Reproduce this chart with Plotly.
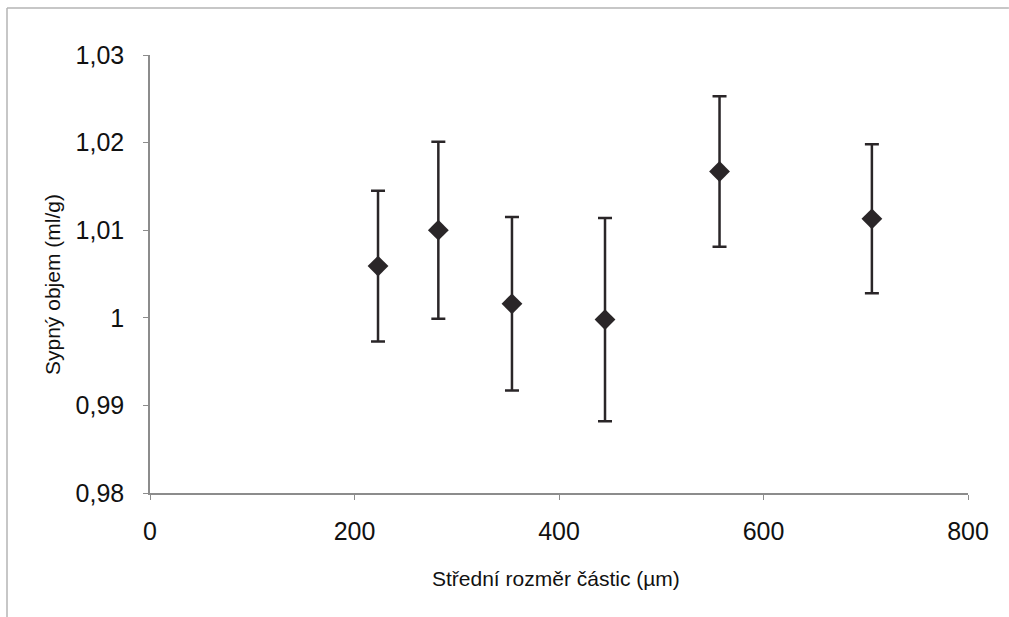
import plotly.graph_objects as go

# Mean particle size (µm) and bulk volume (ml/g) with standard deviations
particle_size = [223, 282, 354, 445, 557, 706]
bulk_volume = [1.0059, 1.0100, 1.0016, 0.9998, 1.0167, 1.0113]
bulk_volume_sd = [0.0086, 0.0101, 0.0099, 0.0116, 0.0086, 0.0085]

y_ticks = [0.98, 0.99, 1.00, 1.01, 1.02, 1.03]
y_tick_text = ["0,98", "0,99", "1", "1,01", "1,02", "1,03"]
x_ticks = [0, 200, 400, 600, 800]

x_title = "Střední rozměr částic (µm)"
y_title = "Sypný objem (ml/g)"

ink = "#2a2628"
axis_grey = "#8c8c8c"
frame_grey = "#b5b5b5"

# plot-area size in pixels, used to place titles and the outer frame
plot_w = 1009 - 150 - 41
plot_h = 617 - 55 - 124

fig = go.Figure()
fig.add_trace(go.Scatter(
    x=particle_size,
    y=bulk_volume,
    mode="markers",
    marker=dict(symbol="diamond", size=16, color=ink),
    error_y=dict(type="data", array=bulk_volume_sd, visible=True,
                 color=ink, thickness=2.5, width=7),
    showlegend=False,
))

font = "Liberation Sans, Arial, sans-serif"
fig.update_layout(
    width=1009, height=617,
    margin=dict(l=150, r=41, t=55, b=124),
    paper_bgcolor="white", plot_bgcolor="white",
    separators=", ",
    font=dict(family=font, color="#111111"),
    xaxis=dict(
        range=[0, 800], tickvals=x_ticks, showgrid=False, zeroline=False,
        showline=True, linecolor=axis_grey, linewidth=1.5,
        ticks="outside", ticklen=5, tickcolor=axis_grey,
        tickfont=dict(size=25, family=font), ticklabelstandoff=10,
    ),
    yaxis=dict(
        range=[0.98, 1.03], tickvals=y_ticks, ticktext=y_tick_text,
        showgrid=False, zeroline=False,
        showline=True, linecolor=axis_grey, linewidth=1.5,
        ticks="outside", ticklen=5, tickcolor=axis_grey,
        tickfont=dict(size=25, family=font), ticklabelstandoff=14,
    ),
    annotations=[
        dict(text=x_title, xref="paper", yref="paper",
             x=(556 - 150) / plot_w, y=(493 - 578) / plot_h,
             xanchor="center", yanchor="middle", showarrow=False,
             font=dict(size=21, family=font, color="#111111")),
        dict(text=y_title, xref="paper", yref="paper", textangle=-90,
             x=(52 - 150) / plot_w, y=(493 - 285) / plot_h,
             xanchor="center", yanchor="middle", showarrow=False,
             font=dict(size=21, family=font, color="#111111")),
    ],
    shapes=[
        # thin outer frame along the top and left edges
        dict(type="line", xref="paper", yref="paper",
             x0=-143 / plot_w, x1=1.05, y0=(493 - 8) / plot_h, y1=(493 - 8) / plot_h,
             line=dict(color=frame_grey, width=1.5)),
        dict(type="line", xref="paper", yref="paper",
             x0=-143 / plot_w, x1=-143 / plot_w, y0=-124 / plot_h, y1=(493 - 8) / plot_h,
             line=dict(color=frame_grey, width=1.5)),
    ],
)

fig.write_html("out.html")
